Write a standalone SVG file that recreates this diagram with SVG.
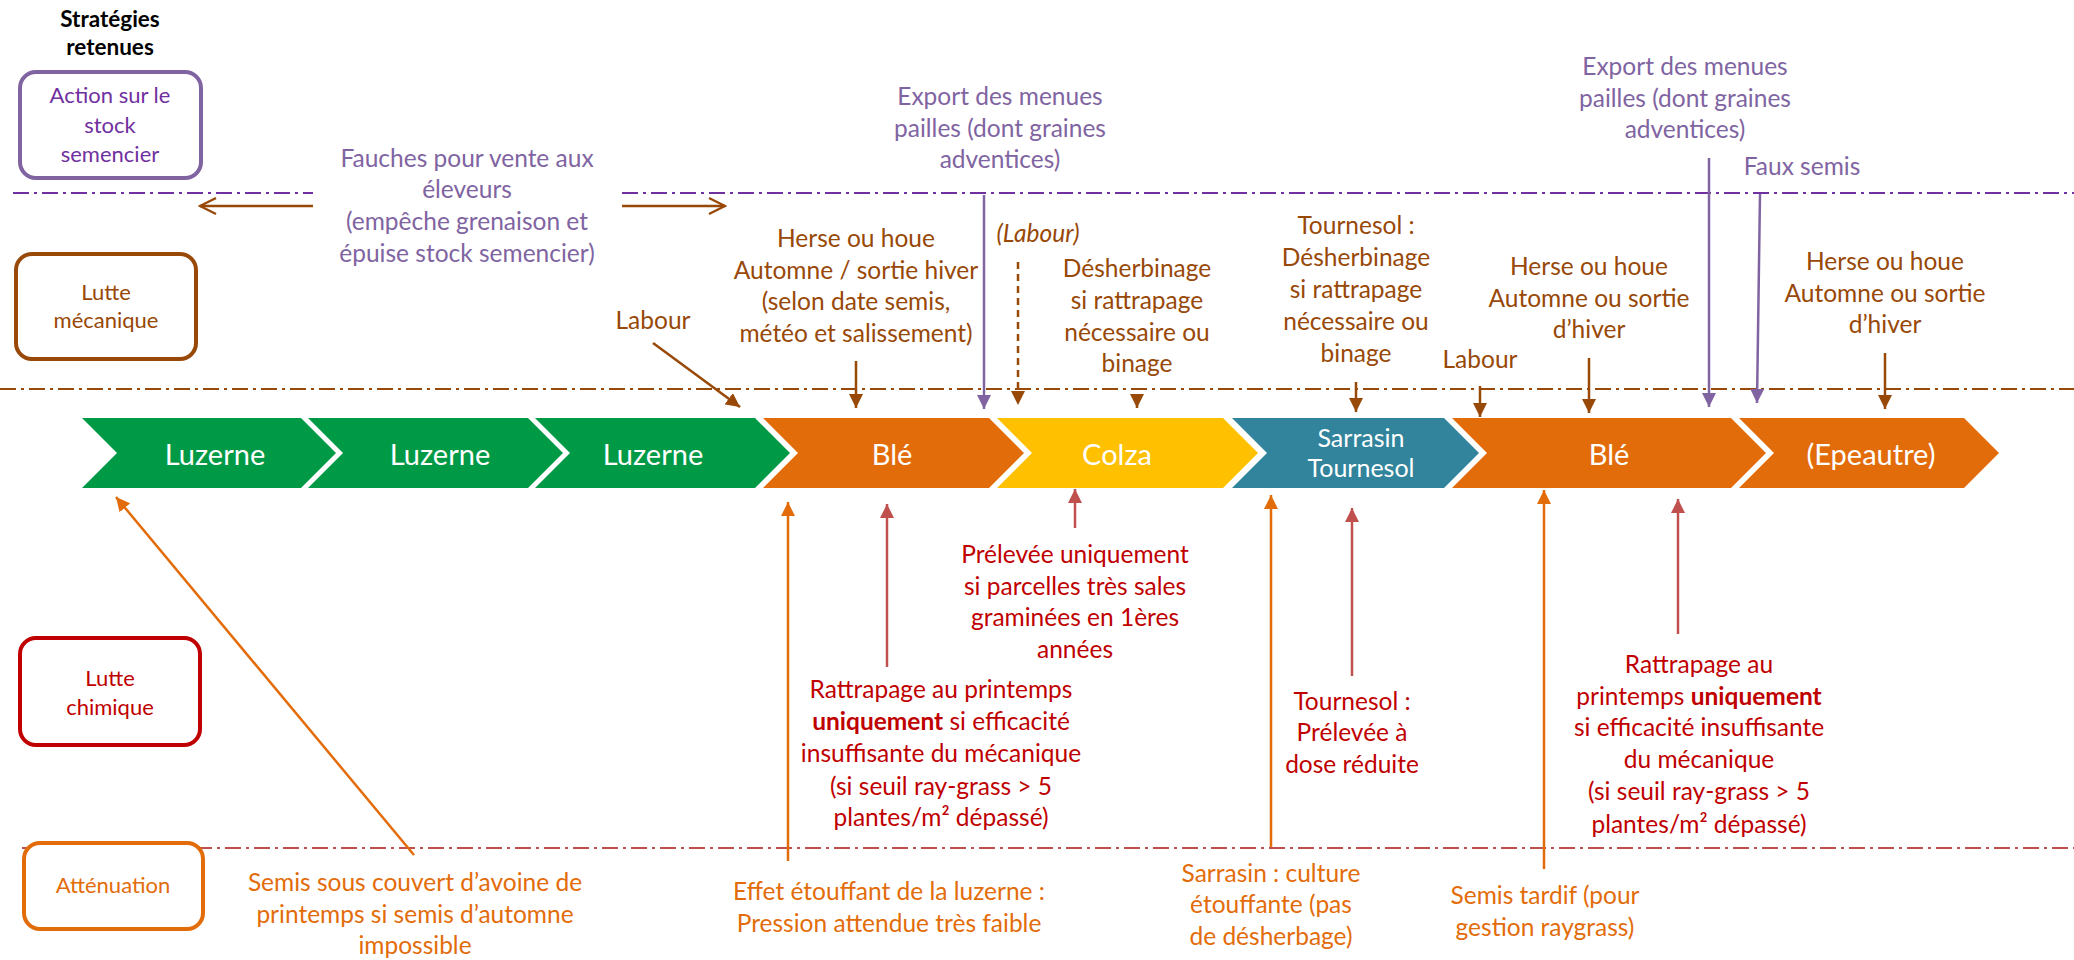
<svg xmlns="http://www.w3.org/2000/svg" width="2074" height="960" viewBox="0 0 2074 960">
<style>
text{font-family:Lato,"Open Sans","Liberation Sans",sans-serif;text-anchor:middle}
.t{font-size:24.5px}
.lbl{font-size:22px}
.chev{font-size:29px;fill:#fff}
.pu{fill:#8064A2}.br{fill:#984807}.rd{fill:#C00000}.or{fill:#E36C0A}
.dd{fill:none;stroke-width:2;stroke-dasharray:16 5 3 5}
.ln{fill:none;stroke-width:2.5}
.box{fill:#fff;stroke-width:4}
</style>
<defs>
<marker id="mBr" viewBox="0 0 10 10" refX="10" refY="5" markerWidth="14" markerHeight="14" markerUnits="userSpaceOnUse" orient="auto"><path d="M0,0 L10,5 L0,10 z" fill="#984807"/></marker>
<marker id="mPu" viewBox="0 0 10 10" refX="10" refY="5" markerWidth="14" markerHeight="14" markerUnits="userSpaceOnUse" orient="auto"><path d="M0,0 L10,5 L0,10 z" fill="#8064A2"/></marker>
<marker id="mRd" viewBox="0 0 10 10" refX="10" refY="5" markerWidth="14" markerHeight="14" markerUnits="userSpaceOnUse" orient="auto"><path d="M0,0 L10,5 L0,10 z" fill="#C0504D"/></marker>
<marker id="mOr" viewBox="0 0 10 10" refX="10" refY="5" markerWidth="14" markerHeight="14" markerUnits="userSpaceOnUse" orient="auto"><path d="M0,0 L10,5 L0,10 z" fill="#E36C0A"/></marker>
<marker id="mOpen" viewBox="0 0 10 10" refX="9" refY="5" markerWidth="20" markerHeight="20" markerUnits="userSpaceOnUse" orient="auto"><path d="M1,1 L9,5 L1,9" fill="none" stroke="#984807" stroke-width="1.2"/></marker>
</defs>
<rect width="2074" height="960" fill="#fff"/>

<!-- separator lines -->
<g id="separators">
<line class="dd" x1="13" y1="193" x2="313" y2="193" stroke="#7030A0"/>
<line class="dd" x1="622" y1="193" x2="2074" y2="193" stroke="#7030A0"/>
<line class="dd" x1="0" y1="389" x2="2074" y2="389" stroke="#984807"/>
<line class="dd" x1="22" y1="848" x2="2074" y2="848" stroke="#C0504D"/>
</g>

<!-- header and category boxes -->
<g id="header">
<text x="110" y="27" style="font-size:22.5px;font-weight:bold" fill="#000">Stratégies</text>
<text x="110" y="55" style="font-size:22.5px;font-weight:bold" fill="#000">retenues</text>
</g>
<g id="cat-stock">
<rect class="box" x="20" y="72" width="181" height="106" rx="16" stroke="#8064A2"/>
<text class="lbl" fill="#7030A0"><tspan x="110" y="103">Action sur le</tspan><tspan x="110" y="133">stock</tspan><tspan x="110" y="162">semencier</tspan></text>
</g>
<g id="cat-meca">
<rect class="box" x="16" y="254" width="180" height="105" rx="16" stroke="#984807"/>
<text class="lbl br"><tspan x="106" y="300">Lutte</tspan><tspan x="106" y="328">mécanique</tspan></text>
</g>
<g id="cat-chim">
<rect class="box" x="20" y="638" width="180" height="107" rx="16" stroke="#C00000"/>
<text class="lbl rd"><tspan x="110" y="686">Lutte</tspan><tspan x="110" y="715">chimique</tspan></text>
</g>
<g id="cat-att">
<rect class="box" x="24" y="843" width="179" height="86" rx="16" stroke="#E36C0A"/>
<text class="lbl or" x="113" y="893">Atténuation</text>
</g>

<!-- rotation chevrons -->
<g id="c-luzerne1"><polygon points="82,418 301,418 336,453 301,488 82,488 117,453" fill="#009A46"/><text class="chev" x="215" y="465">Luzerne</text></g>
<g id="c-luzerne2"><polygon points="308,418 528,418 563,453 528,488 308,488 343,453" fill="#009A46"/><text class="chev" x="440" y="465">Luzerne</text></g>
<g id="c-luzerne3"><polygon points="535,418 755,418 790,453 755,488 535,488 570,453" fill="#009A46"/><text class="chev" x="653" y="465">Luzerne</text></g>
<g id="c-ble1"><polygon points="763,418 989,418 1024,453 989,488 763,488 798,453" fill="#E36C0A"/><text class="chev" x="892" y="465">Blé</text></g>
<g id="c-colza"><polygon points="997,418 1223,418 1258,453 1223,488 997,488 1032,453" fill="#FFC000"/><text class="chev" x="1117" y="465">Colza</text></g>
<g id="c-sarrasin"><polygon points="1232,418 1444,418 1479,453 1444,488 1232,488 1267,453" fill="#31849B"/><text class="chev" style="font-size:25px"><tspan x="1361" y="447">Sarrasin</tspan><tspan x="1361" y="477">Tournesol</tspan></text></g>
<g id="c-ble2"><polygon points="1452,418 1731,418 1766,453 1731,488 1452,488 1487,453" fill="#E36C0A"/><text class="chev" x="1609" y="465">Blé</text></g>
<g id="c-epeautre"><polygon points="1739,418 1964,418 1999,453 1964,488 1739,488 1774,453" fill="#E36C0A"/><text class="chev" x="1871" y="465">(Epeautre)</text></g>

<!-- annotations -->
<g id="n-fauches"><text class="t pu"><tspan x="467" y="167">Fauches pour vente aux</tspan><tspan x="467" y="198">éleveurs</tspan><tspan x="467" y="230">(empêche grenaison et</tspan><tspan x="467" y="262">épuise stock semencier)</tspan></text></g>
<g id="n-export1"><text class="t pu"><tspan x="1000" y="105">Export des menues</tspan><tspan x="1000" y="137">pailles (dont graines</tspan><tspan x="1000" y="168">adventices)</tspan></text></g>
<g id="n-export2"><text class="t pu"><tspan x="1685" y="75">Export des menues</tspan><tspan x="1685" y="107">pailles (dont graines</tspan><tspan x="1685" y="138">adventices)</tspan></text></g>
<g id="n-fauxsemis"><text class="t pu" x="1802" y="175">Faux semis</text></g>
<g id="n-labour1"><text class="t br" x="653" y="329">Labour</text></g>
<g id="n-herse1"><text class="t br"><tspan x="856" y="247">Herse ou houe</tspan><tspan x="856" y="279">Automne / sortie hiver</tspan><tspan x="856" y="310">(selon date semis,</tspan><tspan x="856" y="342">météo et salissement)</tspan></text></g>
<g id="n-labour-it"><text class="t br" x="1038" y="242" font-style="italic">(Labour)</text></g>
<g id="n-desherb"><text class="t br"><tspan x="1137" y="277">Désherbinage</tspan><tspan x="1137" y="309">si rattrapage</tspan><tspan x="1137" y="341">nécessaire ou</tspan><tspan x="1137" y="372">binage</tspan></text></g>
<g id="n-tournesol-meca"><text class="t br"><tspan x="1356" y="234">Tournesol :</tspan><tspan x="1356" y="266">Désherbinage</tspan><tspan x="1356" y="298">si rattrapage</tspan><tspan x="1356" y="330">nécessaire ou</tspan><tspan x="1356" y="362">binage</tspan></text></g>
<g id="n-labour2"><text class="t br" x="1480" y="368">Labour</text></g>
<g id="n-herse2"><text class="t br"><tspan x="1589" y="275">Herse ou houe</tspan><tspan x="1589" y="307">Automne ou sortie</tspan><tspan x="1589" y="338">d’hiver</tspan></text></g>
<g id="n-herse3"><text class="t br"><tspan x="1885" y="270">Herse ou houe</tspan><tspan x="1885" y="302">Automne ou sortie</tspan><tspan x="1885" y="333">d’hiver</tspan></text></g>

<g id="n-prelevee"><text class="t rd"><tspan x="1075" y="563">Prélevée uniquement</tspan><tspan x="1075" y="595">si parcelles très sales</tspan><tspan x="1075" y="626">graminées en 1ères</tspan><tspan x="1075" y="658">années</tspan></text></g>
<g id="n-rattrapage1"><text class="t rd"><tspan x="941" y="698">Rattrapage au printemps</tspan><tspan x="941" y="730"><tspan font-weight="bold">uniquement</tspan> si efficacité</tspan><tspan x="941" y="762">insuffisante du mécanique</tspan><tspan x="941" y="795">(si seuil ray-grass &gt; 5</tspan><tspan x="941" y="826">plantes/m² dépassé)</tspan></text></g>
<g id="n-tournesol-chim"><text class="t rd"><tspan x="1352" y="710">Tournesol :</tspan><tspan x="1352" y="741">Prélevée à</tspan><tspan x="1352" y="773">dose réduite</tspan></text></g>
<g id="n-rattrapage2"><text class="t rd"><tspan x="1699" y="673">Rattrapage au</tspan><tspan x="1699" y="705">printemps <tspan font-weight="bold">uniquement</tspan></tspan><tspan x="1699" y="736">si efficacité insuffisante</tspan><tspan x="1699" y="768">du mécanique</tspan><tspan x="1699" y="800">(si seuil ray-grass &gt; 5</tspan><tspan x="1699" y="833">plantes/m² dépassé)</tspan></text></g>

<g id="n-semis-couvert"><text class="t or"><tspan x="415" y="891">Semis sous couvert d’avoine de</tspan><tspan x="415" y="923">printemps si semis d’automne</tspan><tspan x="415" y="954">impossible</tspan></text></g>
<g id="n-effet"><text class="t or"><tspan x="889" y="900">Effet étouffant de la luzerne :</tspan><tspan x="889" y="932">Pression attendue très faible</tspan></text></g>
<g id="n-sarrasin"><text class="t or"><tspan x="1271" y="882">Sarrasin : culture</tspan><tspan x="1271" y="913">étouffante (pas</tspan><tspan x="1271" y="945">de désherbage)</tspan></text></g>
<g id="n-semis-tardif"><text class="t or"><tspan x="1545" y="904">Semis tardif (pour</tspan><tspan x="1545" y="936">gestion raygrass)</tspan></text></g>

<!-- connectors -->
<g id="connectors">
<line class="ln" x1="313" y1="206" x2="200" y2="206" stroke="#984807" marker-end="url(#mOpen)"/>
<line class="ln" x1="622" y1="206" x2="725" y2="206" stroke="#984807" marker-end="url(#mOpen)"/>
<line class="ln" x1="653" y1="343" x2="740" y2="407" stroke="#984807" marker-end="url(#mBr)"/>
<line class="ln" x1="856" y1="361" x2="856" y2="408" stroke="#984807" marker-end="url(#mBr)"/>
<line class="ln" x1="984" y1="195" x2="984" y2="409" stroke="#8064A2" marker-end="url(#mPu)"/>
<line class="ln" x1="1018" y1="262" x2="1018" y2="405" stroke="#984807" stroke-dasharray="7 5" marker-end="url(#mBr)"/>
<line class="ln" x1="1137" y1="394" x2="1137" y2="408" stroke="#984807" marker-end="url(#mBr)"/>
<line class="ln" x1="1356" y1="382" x2="1356" y2="412" stroke="#984807" marker-end="url(#mBr)"/>
<line class="ln" x1="1480" y1="386" x2="1480" y2="417" stroke="#984807" marker-end="url(#mBr)"/>
<line class="ln" x1="1589" y1="358" x2="1589" y2="413" stroke="#984807" marker-end="url(#mBr)"/>
<line class="ln" x1="1709" y1="158" x2="1709" y2="407" stroke="#8064A2" marker-end="url(#mPu)"/>
<line class="ln" x1="1760" y1="194" x2="1757" y2="403" stroke="#8064A2" marker-end="url(#mPu)"/>
<line class="ln" x1="1885" y1="353" x2="1885" y2="409" stroke="#984807" marker-end="url(#mBr)"/>
<line class="ln" x1="414" y1="855" x2="116" y2="497" stroke="#E36C0A" marker-end="url(#mOr)"/>
<line class="ln" x1="788" y1="861" x2="788" y2="502" stroke="#E36C0A" marker-end="url(#mOr)"/>
<line class="ln" x1="887" y1="667" x2="887" y2="504" stroke="#C0504D" marker-end="url(#mRd)"/>
<line class="ln" x1="1075" y1="528" x2="1075" y2="489" stroke="#C0504D" marker-end="url(#mRd)"/>
<line class="ln" x1="1271" y1="847" x2="1271" y2="495" stroke="#E36C0A" marker-end="url(#mOr)"/>
<line class="ln" x1="1352" y1="676" x2="1352" y2="508" stroke="#C0504D" marker-end="url(#mRd)"/>
<line class="ln" x1="1544" y1="869" x2="1544" y2="490" stroke="#E36C0A" marker-end="url(#mOr)"/>
<line class="ln" x1="1678" y1="634" x2="1678" y2="499" stroke="#C0504D" marker-end="url(#mRd)"/>
</g>
</svg>
